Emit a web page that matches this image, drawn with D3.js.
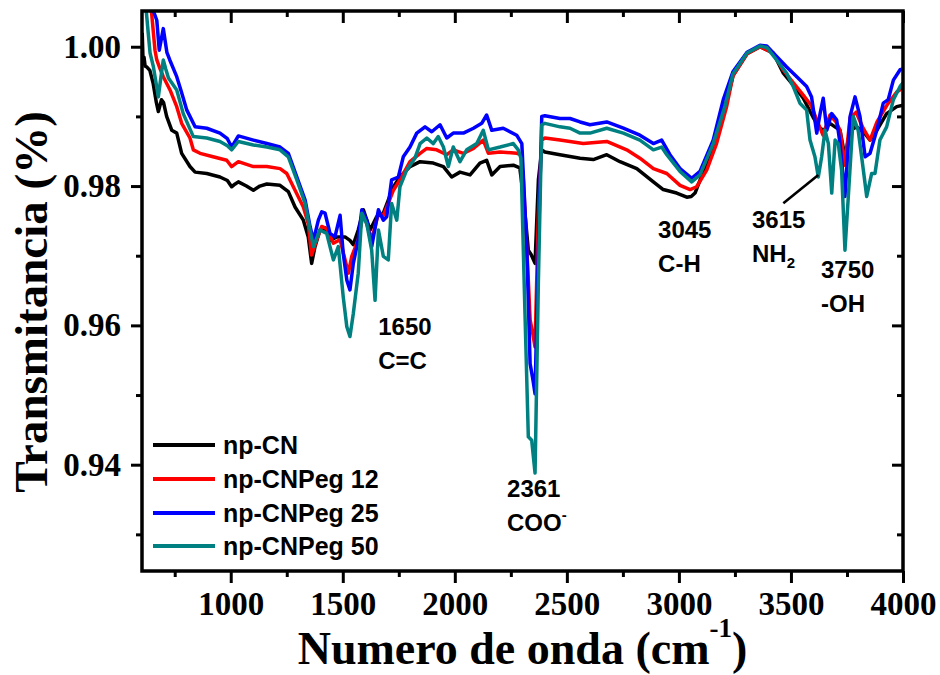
<!DOCTYPE html>
<html>
<head>
<meta charset="utf-8">
<script src="https://cdn.jsdelivr.net/npm/d3@7"></script>
<style>
  body { margin: 0; background: #fff; }
  svg { display: block; }
</style>
</head>
<body>
<svg id="chart" width="940" height="675"></svg>
<script>
// FTIR spectra: wavenumber (cm-1) vs transmittance
const seriesNames = ["np-CN", "np-CNPeg 12", "np-CNPeg 25", "np-CNPeg 50"];
const seriesColors = ["#000000", "#ff0000", "#0000ff", "#008080"];

const npCN = [[605,1.0020],[609,0.9976],[613,0.9985],[618,0.9972],[625,0.9971],[639,0.9966],[654,0.9947],[668,0.9920],[677,0.9907],[691,0.9924],[700,0.9920],[714,0.9900],[737,0.9880],[759,0.9876],[781,0.9847],[818,0.9828],[841,0.9820],[893,0.9818],[952,0.9813],[985,0.9808],[1004,0.9799],[1020,0.9803],[1034,0.9806],[1070,0.9800],[1101,0.9794],[1130,0.9800],[1161,0.9803],[1220,0.9801],[1257,0.9792],[1287,0.9770],[1324,0.9751],[1346,0.9727],[1361,0.9689],[1376,0.9713],[1398,0.9737],[1421,0.9740],[1443,0.9722],[1473,0.9727],[1510,0.9727],[1532,0.9722],[1547,0.9716],[1569,0.9737],[1592,0.9766],[1622,0.9737],[1651,0.9756],[1681,0.9761],[1703,0.9780],[1726,0.9799],[1755,0.9813],[1800,0.9828],[1845,0.9835],[1904,0.9833],[1949,0.9828],[1986,0.9813],[2023,0.9820],[2068,0.9816],[2112,0.9833],[2142,0.9837],[2165,0.9816],[2202,0.9828],[2261,0.9830],[2290,0.9826],[2306,0.9785],[2328,0.9708],[2340,0.9702],[2358,0.9689],[2373,0.9809],[2388,0.9852],[2402,0.9849],[2469,0.9845],[2559,0.9840],[2618,0.9838],[2678,0.9845],[2737,0.9835],[2812,0.9825],[2886,0.9806],[2930,0.9795],[2990,0.9790],[3035,0.9784],[3055,0.9785],[3072,0.9790],[3108,0.9820],[3153,0.9859],[3184,0.9898],[3215,0.9924],[3242,0.9959],[3304,0.9990],[3362,1.0000],[3421,0.9991],[3466,0.9962],[3510,0.9945],[3555,0.9926],[3600,0.9898],[3630,0.9883],[3645,0.9880],[3674,0.9890],[3719,0.9880],[3741,0.9842],[3764,0.9880],[3793,0.9885],[3823,0.9878],[3853,0.9866],[3883,0.9880],[3927,0.9904],[3972,0.9914],[4000,0.9916]];

const npCNPeg12 = [[605,1.0140],[631,1.0080],[647,1.0048],[662,0.9995],[670,0.9981],[685,0.9968],[699,0.9957],[729,0.9938],[759,0.9914],[781,0.9890],[818,0.9869],[833,0.9852],[863,0.9847],[921,0.9842],[982,0.9837],[1004,0.9828],[1034,0.9835],[1101,0.9828],[1161,0.9828],[1220,0.9825],[1250,0.9818],[1287,0.9794],[1324,0.9770],[1346,0.9746],[1361,0.9701],[1384,0.9723],[1406,0.9742],[1428,0.9739],[1458,0.9718],[1488,0.9723],[1518,0.9684],[1525,0.9675],[1540,0.9699],[1569,0.9723],[1592,0.9761],[1629,0.9723],[1659,0.9761],[1681,0.9758],[1703,0.9775],[1726,0.9794],[1755,0.9809],[1800,0.9835],[1845,0.9847],[1875,0.9854],[1919,0.9852],[1964,0.9845],[1993,0.9852],[2038,0.9847],[2083,0.9854],[2127,0.9866],[2150,0.9847],[2202,0.9849],[2276,0.9847],[2295,0.9845],[2306,0.9809],[2328,0.9665],[2336,0.9608],[2349,0.9586],[2358,0.9569],[2373,0.9761],[2388,0.9866],[2402,0.9869],[2469,0.9866],[2573,0.9861],[2678,0.9864],[2767,0.9852],[2826,0.9840],[2886,0.9825],[2946,0.9818],[3005,0.9801],[3050,0.9795],[3079,0.9799],[3124,0.9823],[3168,0.9861],[3213,0.9914],[3241,0.9958],[3304,0.9990],[3362,1.0000],[3420,0.9991],[3465,0.9967],[3509,0.9949],[3554,0.9931],[3590,0.9916],[3615,0.9895],[3643,0.9873],[3674,0.9902],[3701,0.9892],[3719,0.9880],[3741,0.9830],[3764,0.9898],[3791,0.9906],[3822,0.9883],[3853,0.9866],[3884,0.9892],[3928,0.9916],[3972,0.9935],[4000,0.9941]];

const npCNPeg25 = [[605,1.0220],[654,1.0052],[670,1.0038],[681,0.9995],[699,1.0026],[715,0.9992],[728,0.9981],[759,0.9957],[780,0.9935],[804,0.9909],[841,0.9885],[893,0.9883],[952,0.9876],[985,0.9868],[1004,0.9856],[1034,0.9872],[1101,0.9866],[1161,0.9861],[1220,0.9856],[1257,0.9847],[1295,0.9813],[1332,0.9780],[1354,0.9742],[1369,0.9722],[1391,0.9751],[1406,0.9763],[1421,0.9761],[1443,0.9732],[1465,0.9727],[1488,0.9758],[1502,0.9703],[1518,0.9665],[1532,0.9651],[1547,0.9689],[1569,0.9723],[1585,0.9766],[1607,0.9751],[1629,0.9713],[1659,0.9766],[1681,0.9751],[1696,0.9756],[1718,0.9809],[1748,0.9813],[1770,0.9842],[1800,0.9856],[1830,0.9876],[1867,0.9885],[1897,0.9878],[1934,0.9888],[1964,0.9869],[1993,0.9876],[2038,0.9876],[2083,0.9883],[2120,0.9890],[2142,0.9902],[2165,0.9880],[2216,0.9883],[2276,0.9873],[2299,0.9861],[2321,0.9713],[2336,0.9545],[2349,0.9521],[2358,0.9502],[2373,0.9713],[2388,0.9900],[2402,0.9901],[2469,0.9897],[2514,0.9897],[2559,0.9892],[2603,0.9888],[2678,0.9892],[2752,0.9883],[2826,0.9873],[2886,0.9861],[2923,0.9866],[2960,0.9845],[3005,0.9825],[3057,0.9811],[3094,0.9821],[3153,0.9866],[3198,0.9924],[3241,0.9964],[3304,0.9992],[3362,1.0002],[3392,1.0001],[3436,0.9986],[3481,0.9971],[3526,0.9957],[3570,0.9943],[3592,0.9928],[3615,0.9876],[3630,0.9904],[3644,0.9926],[3660,0.9880],[3682,0.9904],[3704,0.9895],[3719,0.9861],[3741,0.9785],[3764,0.9900],[3786,0.9928],[3808,0.9900],[3831,0.9842],[3853,0.9847],[3883,0.9880],[3912,0.9919],[3934,0.9924],[3957,0.9952],[3987,0.9967],[4000,0.9968]];

const npCNPeg50 = [[605,1.0160],[622,1.0055],[632,1.0019],[640,0.9991],[655,0.9971],[677,0.9928],[690,0.9960],[699,0.9981],[710,0.9968],[722,0.9955],[759,0.9938],[788,0.9904],[833,0.9871],[893,0.9869],[952,0.9864],[985,0.9858],[1004,0.9852],[1034,0.9864],[1101,0.9859],[1161,0.9856],[1220,0.9852],[1257,0.9842],[1295,0.9809],[1332,0.9775],[1354,0.9737],[1369,0.9713],[1398,0.9737],[1428,0.9732],[1458,0.9694],[1480,0.9713],[1502,0.9641],[1518,0.9598],[1532,0.9584],[1547,0.9617],[1569,0.9675],[1585,0.9761],[1607,0.9746],[1629,0.9708],[1644,0.9636],[1659,0.9737],[1681,0.9699],[1703,0.9694],[1718,0.9775],[1741,0.9751],[1755,0.9799],[1785,0.9823],[1822,0.9840],[1845,0.9861],[1875,0.9869],[1904,0.9861],[1926,0.9871],[1949,0.9856],[1971,0.9828],[1993,0.9856],[2023,0.9835],[2053,0.9852],[2098,0.9861],[2127,0.9880],[2150,0.9852],[2202,0.9856],[2261,0.9861],[2283,0.9852],[2295,0.9840],[2313,0.9618],[2328,0.9440],[2343,0.9435],[2358,0.9388],[2373,0.9665],[2388,0.9888],[2402,0.9890],[2469,0.9885],[2514,0.9883],[2559,0.9876],[2603,0.9876],[2678,0.9883],[2752,0.9876],[2826,0.9866],[2886,0.9852],[2923,0.9856],[2946,0.9845],[3005,0.9821],[3057,0.9806],[3094,0.9816],[3153,0.9861],[3205,0.9914],[3241,0.9961],[3304,0.9991],[3362,1.0001],[3392,0.9999],[3436,0.9981],[3481,0.9962],[3510,0.9943],[3540,0.9919],[3570,0.9909],[3585,0.9866],[3607,0.9842],[3622,0.9813],[3637,0.9842],[3652,0.9880],[3667,0.9861],[3682,0.9790],[3697,0.9866],[3711,0.9861],[3726,0.9823],[3741,0.9708],[3756,0.9785],[3778,0.9900],[3800,0.9880],[3823,0.9823],[3838,0.9785],[3860,0.9818],[3875,0.9818],[3897,0.9866],[3927,0.9885],[3957,0.9924],[3987,0.9943],[4000,0.9948]];

const xMajorTicks = [1000, 1500, 2000, 2500, 3000, 3500, 4000];
const xMinorTicks = [750, 1250, 1750, 2250, 2750, 3250, 3750];
const yMajorTicks = [0.94, 0.96, 0.98, 1.00];
const yMinorTicks = [0.93, 0.95, 0.97, 0.99];

// band assignments: anchor (wavenumber, transmittance) of the first text line
const bandLabels = [
  { wn: 1658, t: 0.95861, lines: [[{ s: "1650" }], [{ s: "C=C" }]] },
  { wn: 2233, t: 0.93535, lines: [[{ s: "2361" }], [{ s: "COO" }, { s: "-", sup: true }]] },
  { wn: 2907, t: 0.97253, lines: [[{ s: "3045" }], [{ s: "C-H" }]] },
  { wn: 3326, t: 0.97397, lines: [[{ s: "3615" }], [{ s: "NH" }, { s: "2", sub: true }]] },
  { wn: 3634, t: 0.96679, lines: [[{ s: "3750" }], [{ s: "-OH" }]] }
];
const pointer = [[3466, 0.97752], [3622, 0.98158]];

const allSeries = [npCN, npCNPeg12, npCNPeg25, npCNPeg50];

const svg = d3.select("#chart");
const L = 142, R = 903, T = 11, B = 571;

const x = d3.scaleLinear().domain([604, 4000]).range([L, R]);
const y = d3.scaleLinear().domain([0.92474, 1.00513]).range([B, T]);

const serif = "'Liberation Serif', 'Times New Roman', serif";
const sans = "'Liberation Sans', Arial, sans-serif";

svg.append("defs").append("clipPath").attr("id", "plotClip")
  .append("rect").attr("x", L).attr("y", T).attr("width", R - L).attr("height", B - T);

// spectra
const line = d3.line().x(d => x(d[0])).y(d => y(d[1]));
const plot = svg.append("g").attr("clip-path", "url(#plotClip)");
allSeries.forEach((data, i) => {
  plot.append("path")
    .datum(data)
    .attr("d", line)
    .attr("fill", "none")
    .attr("stroke", seriesColors[i])
    .attr("stroke-width", 3.5)
    .attr("stroke-linejoin", "round");
});

// axes
function styleAxis(g, tickW) {
  g.select(".domain").remove();
  g.selectAll(".tick line").attr("stroke", "#000").attr("stroke-width", tickW);
}

// bottom: outward ticks with labels
const gB = svg.append("g").attr("transform", `translate(0,${B})`)
  .call(d3.axisBottom(x).tickValues(xMajorTicks).tickSize(12).tickPadding(9).tickFormat(d3.format("d")));
styleAxis(gB, 3);
gB.selectAll(".tick text").attr("font-family", serif).attr("font-weight", "bold")
  .attr("font-size", 33).attr("fill", "#000");
const gBm = svg.append("g").attr("transform", `translate(0,${B})`)
  .call(d3.axisBottom(x).tickValues(xMinorTicks).tickSize(6).tickFormat(""));
styleAxis(gBm, 3);

// top: inward ticks
const gT = svg.append("g").attr("transform", `translate(0,${T})`)
  .call(d3.axisBottom(x).tickValues(xMajorTicks).tickSize(12).tickFormat(""));
styleAxis(gT, 3);
const gTm = svg.append("g").attr("transform", `translate(0,${T})`)
  .call(d3.axisBottom(x).tickValues(xMinorTicks).tickSize(6).tickFormat(""));
styleAxis(gTm, 3);

// left: outward ticks with labels
const gL = svg.append("g").attr("transform", `translate(${L},0)`)
  .call(d3.axisLeft(y).tickValues(yMajorTicks).tickSize(11).tickPadding(10).tickFormat(d3.format(".2f")));
styleAxis(gL, 3);
gL.selectAll(".tick text").attr("font-family", serif).attr("font-weight", "bold")
  .attr("font-size", 33).attr("fill", "#000");
const gLm = svg.append("g").attr("transform", `translate(${L},0)`)
  .call(d3.axisLeft(y).tickValues(yMinorTicks).tickSize(6).tickFormat(""));
styleAxis(gLm, 3);

// right: inward ticks
const gR = svg.append("g").attr("transform", `translate(${R},0)`)
  .call(d3.axisLeft(y).tickValues(yMajorTicks).tickSize(11).tickFormat(""));
styleAxis(gR, 3);
const gRm = svg.append("g").attr("transform", `translate(${R},0)`)
  .call(d3.axisLeft(y).tickValues(yMinorTicks).tickSize(6).tickFormat(""));
styleAxis(gRm, 3);

// frame
svg.append("rect").attr("x", L).attr("y", T).attr("width", R - L).attr("height", B - T)
  .attr("fill", "none").attr("stroke", "#000").attr("stroke-width", 3.5);

// axis titles
const xt = svg.append("text")
  .attr("x", (L + R) / 2).attr("y", 664)
  .attr("text-anchor", "middle")
  .attr("font-family", serif).attr("font-weight", "bold").attr("font-size", 46).attr("fill", "#000");
xt.append("tspan").text("Numero de onda (cm");
xt.append("tspan").attr("font-size", 27).attr("dy", -27).text("-1");
xt.append("tspan").attr("dy", 27).text(")");

svg.append("text")
  .attr("transform", "translate(47,302) rotate(-90)")
  .attr("text-anchor", "middle")
  .attr("font-family", serif).attr("font-weight", "bold").attr("font-size", 47).attr("fill", "#000")
  .text("Transmitancia (%)");

// band labels
bandLabels.forEach(b => {
  b.lines.forEach((segs, li) => {
    const t = svg.append("text")
      .attr("x", x(b.wn)).attr("y", y(b.t) + li * 34)
      .attr("font-family", sans).attr("font-weight", "bold").attr("font-size", 24).attr("fill", "#000");
    segs.forEach(seg => {
      if (seg.sup) {
        t.append("tspan").attr("font-size", 15).attr("dy", -11).text(seg.s);
      } else if (seg.sub) {
        t.append("tspan").attr("font-size", 15).attr("dy", 6).text(seg.s);
      } else {
        t.append("tspan").text(seg.s);
      }
    });
  });
});

svg.append("path")
  .datum(pointer)
  .attr("d", line)
  .attr("stroke", "#000").attr("stroke-width", 2.6).attr("fill", "none");

// legend
const legendY = [445, 479, 513, 546];
seriesNames.forEach((name, i) => {
  svg.append("line")
    .attr("x1", 153).attr("x2", 215)
    .attr("y1", legendY[i]).attr("y2", legendY[i])
    .attr("stroke", seriesColors[i]).attr("stroke-width", 4);
  svg.append("text")
    .attr("x", 223).attr("y", legendY[i]).attr("dy", "0.36em")
    .attr("font-family", sans).attr("font-weight", "bold").attr("font-size", 25).attr("fill", "#000")
    .text(name);
});
</script>
</body>
</html>
